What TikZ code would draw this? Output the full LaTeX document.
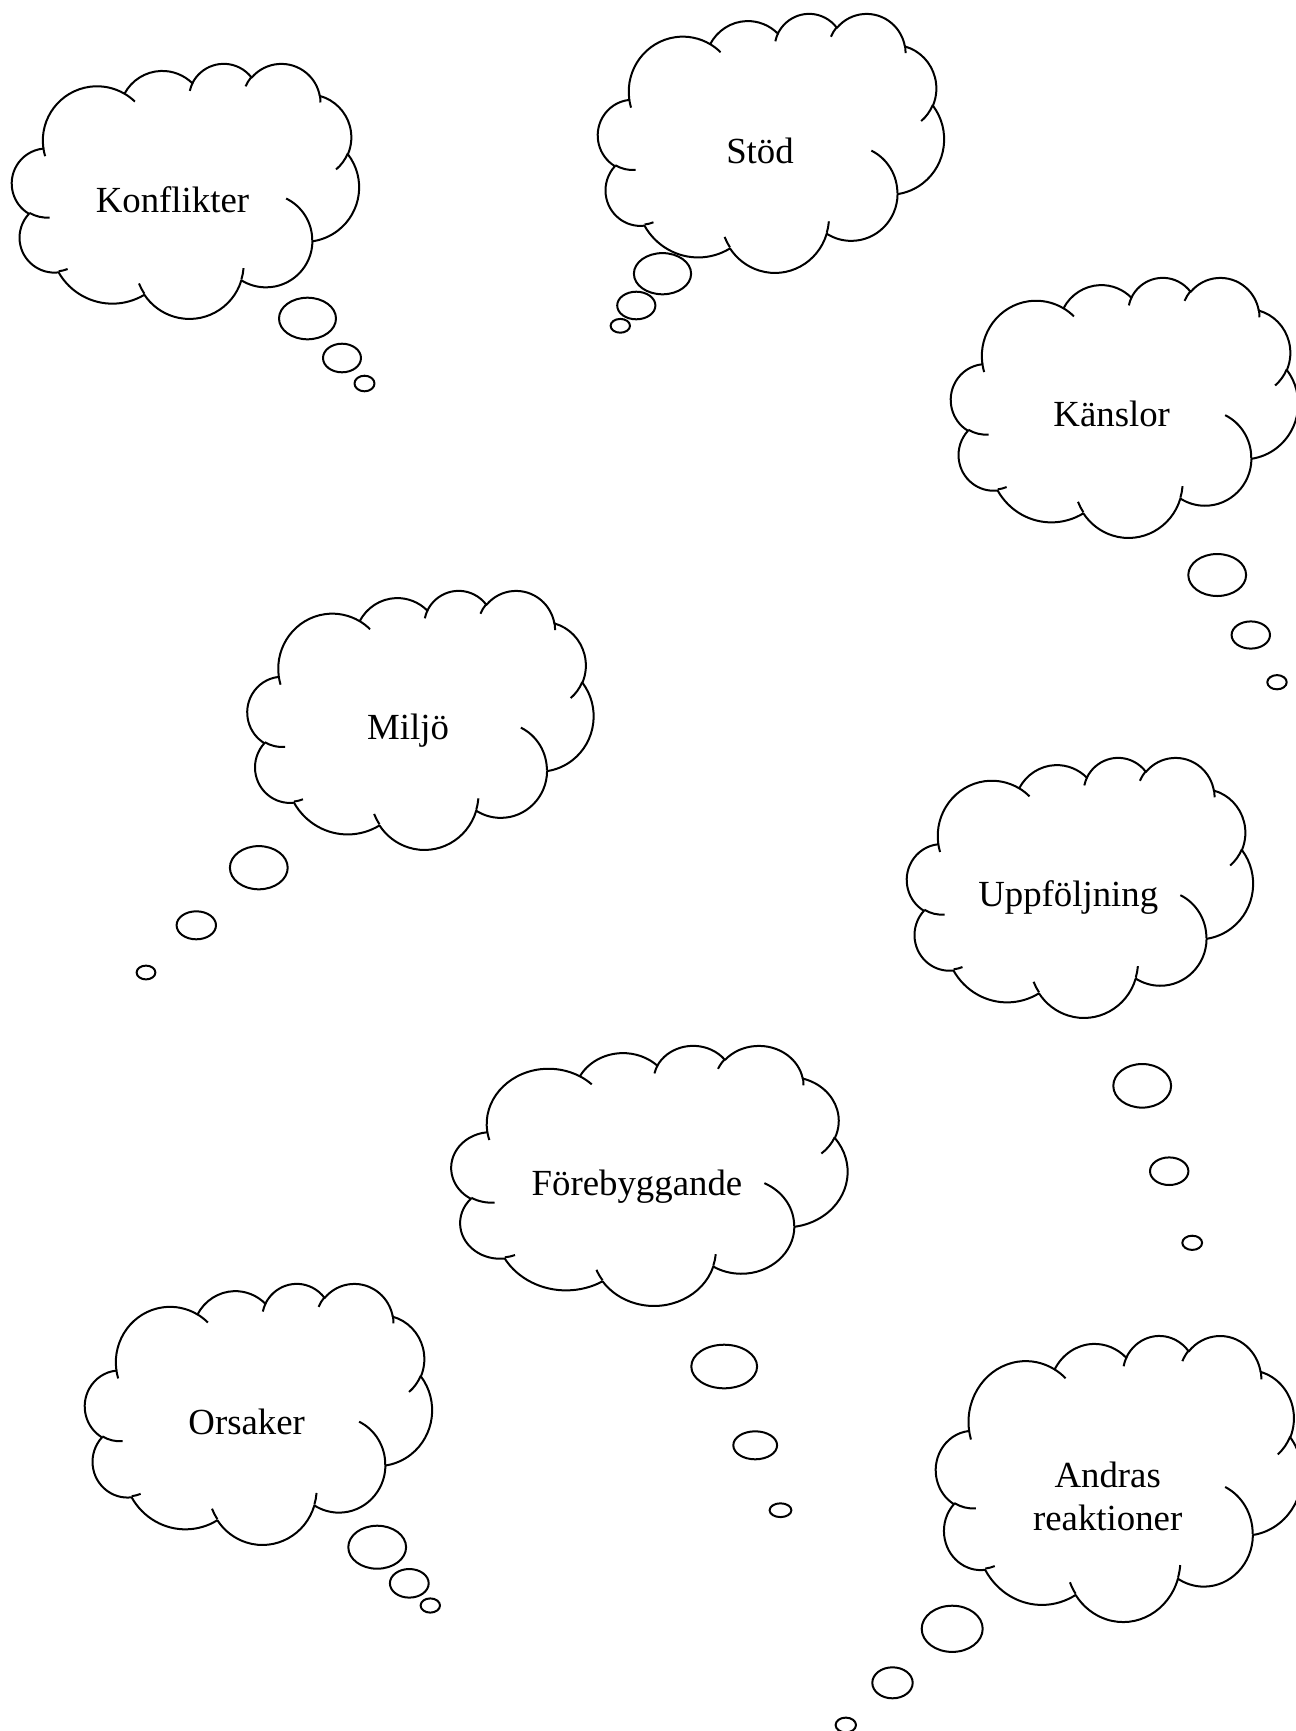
\documentclass[tikz,border=0pt]{standalone}
\usepackage{fontspec}
\setmainfont{Liberation Serif}
\makeatletter
% arc of the cloud outline: #1 id, #2 x radius, #3 y radius, #4 start (visual, deg), #5 sweep
\newcommand\defcloudarc[5]{%
  \pgfmathsetmacro\cl@a{#4}%
  \pgfmathsetmacro\cl@b{#4+#5}%
  \pgfmathsetmacro\cl@sa{\cl@a+Mod(atan2(#2*sin(\cl@a),#3*cos(\cl@a))-(\cl@a)+180,360)-180}%
  \pgfmathsetmacro\cl@sb{\cl@b+Mod(atan2(#2*sin(\cl@b),#3*cos(\cl@b))-(\cl@b)+180,360)-180}%
  \expandafter\xdef\csname cld#1\endcsname{arc[start angle=\cl@sa,end angle=\cl@sb,x radius=#2,y radius=#3]}%
}
\makeatother
\defcloudarc{A}{6.753}{9.190}{-190.48748}{123.78053}
\defcloudarc{B}{5.333}{7.267}{-144.10238}{89.94523}
\defcloudarc{C}{4.365}{5.945}{-145.80792}{99.72302}
\defcloudarc{D}{4.857}{6.595}{-130.98607}{117.24173}
\defcloudarc{E}{5.333}{7.273}{-78.70888}{109.02692}
\defcloudarc{F}{6.775}{9.220}{-46.26725}{130.269}
\defcloudarc{G}{5.785}{7.867}{0.62502}{114.03333}
\defcloudarc{H}{6.752}{9.215}{22.4516}{115.17255}
\defcloudarc{I}{7.720}{10.543}{66.24263}{75.71102}
\defcloudarc{J}{4.360}{5.918}{-274.94208}{146.73557}
\defcloudarc{K}{4.345}{5.945}{-246.8285}{152.51885}
\defcloudarc{ia}{4.345}{5.945}{86.742}{26.4295}
\defcloudarc{ib}{4.360}{5.918}{73.61047}{11.44747}
\defcloudarc{ic}{6.752}{9.215}{137.62415}{14.0811}
\defcloudarc{id}{6.752}{9.215}{6.45327}{15.99835}
\defcloudarc{ie}{5.785}{7.867}{-70.29235}{70.91737}
\defcloudarc{if}{5.333}{7.273}{30.31803}{27.7515}
\defcloudarc{ig}{4.857}{6.595}{-13.74433}{14.8589}
\defcloudarc{ih}{4.857}{6.595}{-149.18145}{18.19537}
\defcloudarc{ii}{4.365}{5.945}{-163.49427}{17.68635}
\defcloudarc{ij}{6.753}{9.190}{-66.70695}{12.31935}
\defcloudarc{ik}{6.753}{9.190}{157.65435}{11.85817}
% cloud body: #1 left, #2 top, #3 width, #4 height (pixels)
\newcommand\thoughtcloud[4]{%
  \begin{scope}[shift={(#1,#2)},x={({#3*0.5pt/43.2},0pt)},y={(0pt,{-#4*0.5pt/43.2})}]
    \draw[cloudline,fill=white] (3.9,14.37) \cldA \cldB \cldC \cldD \cldE \cldF \cldG \cldH \cldI \cldJ \cldK -- cycle;
    \draw[cloudline] (4.693,26.177) \cldia (6.928,34.899) \cldib (16.478,39.09) \cldic
      (28.827,34.751) \cldid (34.129,22.954) \cldie (41.798,15.354) \cldif
      (38.324,5.426) \cldig (29.078,3.952) \cldih (22.141,4.72) \cldii
      (14.0,5.192) \cldij (4.127,15.789) \cldik;
  \end{scope}}
\newcommand\bubble[4]{\draw[cloudline,fill=white] (#1,#2) ellipse [x radius=#3, y radius=#4];}
\begin{document}
\begin{tikzpicture}[x=0.5pt,y=-0.5pt,
  cloudline/.style={line width=1pt,black,line join=round},
  lbl/.style={font=\fontsize{18.4pt}{21.2pt}\selectfont,inner sep=0pt,anchor=base}]
\fill[white] (0,0) rectangle (1296,1731);
\useasboundingbox (0,0) rectangle (1296,1731);
% Konflikter
\thoughtcloud{12}{63}{347}{255}
\bubble{307.5}{318.5}{28.5}{20.8}
\bubble{342}{358}{19}{14.3}
\bubble{364.5}{383.5}{10}{7.8}
\node[lbl] (konflikter) at (172.5,212.7) {Konflikter};
% Stöd
\thoughtcloud{598}{13}{346}{259}
\bubble{662.5}{273.7}{28.6}{20.6}
\bubble{636.3}{305.5}{19.1}{13.8}
\bubble{620.3}{325.8}{9.7}{6.9}
\node[lbl] (stod) at (760,163.3) {Stöd};
% Känslor
\thoughtcloud{951}{277}{347}{260}
\bubble{1217.2}{575}{28.9}{21}
\bubble{1250.8}{635}{19.2}{13.6}
\bubble{1277}{682.2}{9.7}{7.1}
\node[lbl] (kanslor) at (1111.7,426.7) {Känslor};
% Miljö
\thoughtcloud{247.5}{590}{346}{259}
\bubble{258.8}{867.7}{28.9}{21.6}
\bubble{196.3}{925.3}{19.7}{14}
\bubble{146}{972.5}{9.4}{6.9}
\node[lbl] (miljo) at (408,739.3) {Miljö};
% Uppföljning
\thoughtcloud{907}{757}{346}{260}
\bubble{1142.2}{1085.8}{28.9}{21.8}
\bubble{1169.2}{1171.2}{19.2}{13.8}
\bubble{1192.2}{1242.8}{9.9}{7.1}
\node[lbl] (uppfoljning) at (1068.3,906.7) {Uppföljning};
% Förebyggande
\thoughtcloud{451.5}{1045}{396}{260}
\bubble{724.2}{1366.5}{32.9}{21.8}
\bubble{755.2}{1445.3}{21.9}{14}
\bubble{780.5}{1510.2}{10.9}{6.9}
\node[lbl] (forebyggande) at (637,1195) {Förebyggande};
% Orsaker
\thoughtcloud{85}{1283}{347}{261}
\bubble{377.2}{1547.2}{28.9}{21.5}
\bubble{409.3}{1583.3}{19.4}{14.3}
\bubble{430.3}{1605.5}{9.7}{7.1}
\node[lbl] (orsaker) at (246.7,1434.3) {Orsaker};
% Andras reaktioner
\thoughtcloud{936}{1335}{366}{286}
\bubble{952.2}{1628.8}{30.5}{23.1}
\bubble{892.5}{1682.8}{20.2}{15.5}
\bubble{845.8}{1725}{10.2}{7.4}
\node[lbl] (andras) at (1107.7,1487.7) {Andras};
\node[lbl] (reaktioner) at (1107.7,1530) {reaktioner};
\end{tikzpicture}
\end{document}
